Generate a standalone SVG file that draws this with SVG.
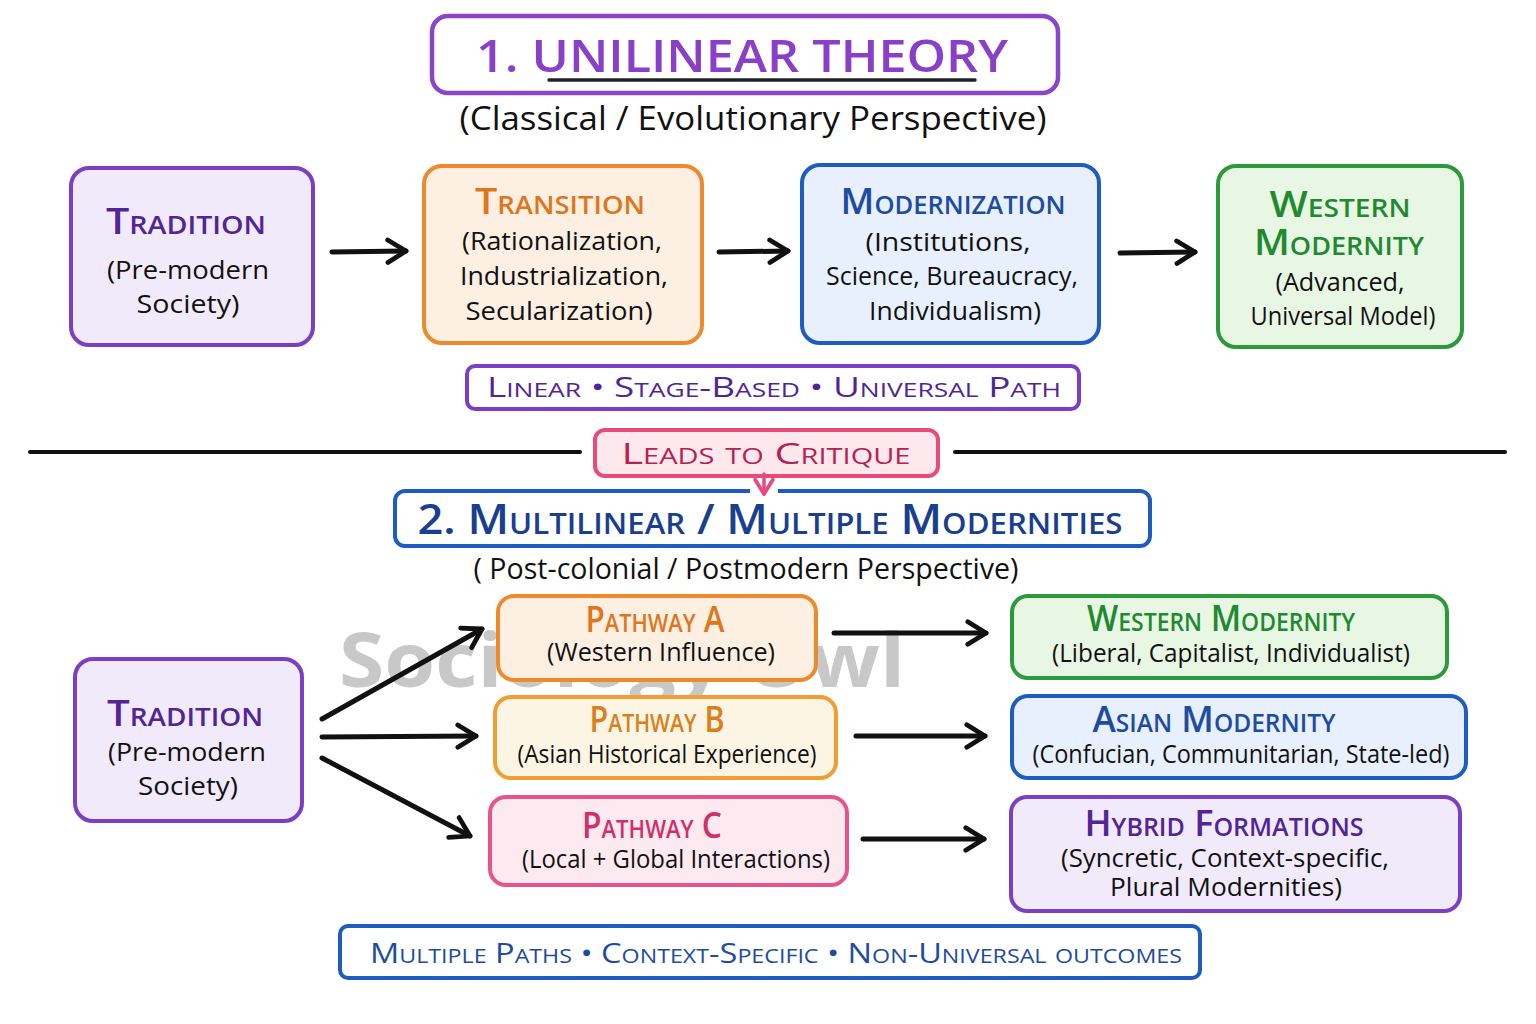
<svg xmlns="http://www.w3.org/2000/svg" width="1536" height="1024" viewBox="0 0 1536 1024">
<defs>
<marker id="ah" viewBox="0 0 20 20" refX="17" refY="10" markerWidth="28" markerHeight="28" markerUnits="userSpaceOnUse" orient="auto">
<path d="M4,2 L17,10 L4,18" fill="none" stroke="#111" stroke-width="3.4" stroke-linecap="round" stroke-linejoin="round"/>
</marker>
<marker id="ahp" viewBox="0 0 20 20" refX="17" refY="10" markerWidth="22" markerHeight="22" markerUnits="userSpaceOnUse" orient="auto">
<path d="M4,2 L17,10 L4,18" fill="none" stroke="#e8497e" stroke-width="3.4" stroke-linecap="round" stroke-linejoin="round"/>
</marker>
</defs>
<style>
text{font-family:"Open Sans","Noto Sans","Liberation Sans",sans-serif;text-anchor:middle;}
.box{stroke-width:4;}
.pur{fill:#f1eafb;stroke:#7b3ec4;}
.ora{fill:#fdf0e2;stroke:#ef8a2c;}
.yel{fill:#fdf5e3;stroke:#f09e32;}
.blu{fill:#e7f0fc;stroke:#1f5cc0;}
.grn{fill:#e8f7e4;stroke:#2c9a3b;}
.pnk{fill:#fde9f0;stroke:#e8548a;}
.ttl{font-weight:600;font-variant:small-caps;font-size:36px;}
.body{fill:#111;font-size:26px;}
.tp{fill:#512596;}
.to{fill:#e0761c;}
.ty{fill:#d9801d;}
.tb{fill:#1d4ca0;}
.tg{fill:#1f8a2f;}
.tk{fill:#d0306a;}
.conn line{stroke:#111;stroke-width:5;stroke-linecap:round;}
</style>
<rect width="1536" height="1024" fill="#ffffff"/>

<!-- watermark -->
<text x="622" y="687" font-family="Open Sans, Liberation Sans, sans-serif" font-weight="700" font-size="76" fill="#9a9a9a" fill-opacity="0.55" textLength="566" lengthAdjust="spacingAndGlyphs">Sociology Owl</text>

<!-- Section 1 title -->
<g id="title1">
<rect x="432" y="16" width="626" height="77" rx="16" fill="#fff" stroke="#8a45c8" stroke-width="4.5"/>
<text x="742" y="72" font-size="46" font-weight="600" fill="#8a3fc8" textLength="532" lengthAdjust="spacingAndGlyphs">1. UNILINEAR THEORY</text>
<line x1="549" y1="80" x2="975" y2="80" stroke="#222" stroke-width="3.5" stroke-linecap="round"/>
<text x="753" y="130" font-size="33" fill="#111" textLength="587" lengthAdjust="spacingAndGlyphs">(Classical / Evolutionary Perspective)</text>
</g>

<!-- top row -->
<g id="tradition1">
<rect class="box pur" x="71" y="168" width="242" height="177" rx="18"/>
<text class="ttl tp" x="186" y="234" textLength="160" lengthAdjust="spacingAndGlyphs">Tradition</text>
<text class="body" x="188" y="279" textLength="162" lengthAdjust="spacingAndGlyphs">(Pre-modern</text>
<text class="body" x="188" y="313" textLength="103" lengthAdjust="spacingAndGlyphs">Society)</text>
</g>
<g id="transition">
<rect class="box ora" x="424" y="166" width="278" height="177" rx="18"/>
<text class="ttl to" x="560" y="214" textLength="170" lengthAdjust="spacingAndGlyphs">Transition</text>
<text class="body" x="562" y="250" textLength="200" lengthAdjust="spacingAndGlyphs">(Rationalization,</text>
<text class="body" x="564" y="285" textLength="208" lengthAdjust="spacingAndGlyphs">Industrialization,</text>
<text class="body" x="559" y="320" textLength="187" lengthAdjust="spacingAndGlyphs">Secularization)</text>
</g>
<g id="modernization">
<rect class="box blu" x="802" y="165" width="297" height="178" rx="18"/>
<text class="ttl tb" x="953" y="214" textLength="225" lengthAdjust="spacingAndGlyphs">Modernization</text>
<text class="body" x="948" y="251" textLength="165" lengthAdjust="spacingAndGlyphs">(Institutions,</text>
<text class="body" x="952" y="285" textLength="252" lengthAdjust="spacingAndGlyphs">Science, Bureaucracy,</text>
<text class="body" x="955" y="320" textLength="172" lengthAdjust="spacingAndGlyphs">Individualism)</text>
</g>
<g id="western1">
<rect class="box grn" x="1218" y="166" width="244" height="181" rx="18"/>
<text class="ttl tg" x="1340" y="217" textLength="141" lengthAdjust="spacingAndGlyphs">Western</text>
<text class="ttl tg" x="1339" y="255" textLength="170" lengthAdjust="spacingAndGlyphs">Modernity</text>
<text class="body" x="1340" y="291" textLength="129" lengthAdjust="spacingAndGlyphs">(Advanced,</text>
<text class="body" x="1343" y="325" textLength="185" lengthAdjust="spacingAndGlyphs">Universal Model)</text>
</g>

<g id="banner1">
<rect x="467" y="366" width="612" height="43" rx="8" fill="#fff" stroke="#7b3ec4" stroke-width="4"/>
<text class="tp" x="774" y="397" font-size="28" font-weight="500" font-variant="small-caps" textLength="574" lengthAdjust="spacingAndGlyphs">Linear  •  Stage-Based  •  Universal Path</text>
</g>

<!-- divider -->
<g id="divider">
<line x1="30" y1="452" x2="580" y2="452" stroke="#111" stroke-width="4" stroke-linecap="round"/>
<line x1="955" y1="452" x2="1505" y2="452" stroke="#111" stroke-width="4" stroke-linecap="round"/>
</g>

<g id="critique">
<rect x="595" y="430" width="343" height="46" rx="10" fill="#fde8ee" stroke="#e84a7a" stroke-width="4"/>
<text x="766" y="464" font-size="30" font-weight="500" font-variant="small-caps" fill="#b81f52" textLength="289" lengthAdjust="spacingAndGlyphs">Leads to Critique</text>
</g>

<!-- Section 2 title -->
<g id="title2">
<rect x="395" y="491" width="755" height="55" rx="10" fill="#fff" stroke="#1f5cc0" stroke-width="4"/>
<line x1="750" y1="491" x2="778" y2="491" stroke="#fff" stroke-width="6"/>
<text x="770" y="534" font-size="42" font-weight="600" font-variant="small-caps" fill="#1a3f8f" textLength="705" lengthAdjust="spacingAndGlyphs">2. Multilinear / Multiple Modernities</text>
<text x="746" y="579" font-size="30" fill="#111" textLength="545" lengthAdjust="spacingAndGlyphs">( Post-colonial / Postmodern Perspective)</text>
</g>

<g id="tradition2">
<rect class="box pur" x="75" y="659" width="227" height="162" rx="18"/>
<text class="ttl tp" x="185" y="726" textLength="156" lengthAdjust="spacingAndGlyphs">Tradition</text>
<text class="body" x="187" y="761" textLength="158" lengthAdjust="spacingAndGlyphs">(Pre-modern</text>
<text class="body" x="188" y="795" textLength="100" lengthAdjust="spacingAndGlyphs">Society)</text>
</g>

<g id="pathA">
<rect class="box ora" x="498" y="596" width="318" height="84" rx="16"/>
<text class="ttl to" x="655" y="632" font-size="32" textLength="139" lengthAdjust="spacingAndGlyphs">Pathway A</text>
<text class="body" x="661" y="661" textLength="228" lengthAdjust="spacingAndGlyphs">(Western Influence)</text>
</g>
<g id="pathB">
<rect class="box yel" x="495" y="697" width="341" height="81" rx="16"/>
<text class="ttl ty" x="657" y="732" font-size="32" textLength="135" lengthAdjust="spacingAndGlyphs">Pathway B</text>
<text class="body" x="667" y="763" textLength="299" lengthAdjust="spacingAndGlyphs">(Asian Historical Experience)</text>
</g>
<g id="pathC">
<rect class="box pnk" x="490" y="797" width="357" height="88" rx="16"/>
<text class="ttl tk" x="652" y="838" font-size="32" textLength="140" lengthAdjust="spacingAndGlyphs">Pathway C</text>
<text class="body" x="676" y="868" textLength="308" lengthAdjust="spacingAndGlyphs">(Local + Global Interactions)</text>
</g>

<g id="western2">
<rect class="box grn" x="1012" y="596" width="435" height="82" rx="16"/>
<text class="ttl tg" x="1221" y="631" font-size="32" textLength="268" lengthAdjust="spacingAndGlyphs">Western Modernity</text>
<text class="body" x="1231" y="662" textLength="358" lengthAdjust="spacingAndGlyphs">(Liberal, Capitalist, Individualist)</text>
</g>
<g id="asian">
<rect class="box blu" x="1012" y="696" width="454" height="82" rx="16"/>
<text class="ttl tb" x="1214" y="732" font-size="32" textLength="243" lengthAdjust="spacingAndGlyphs">Asian Modernity</text>
<text class="body" x="1241" y="763" textLength="417" lengthAdjust="spacingAndGlyphs">(Confucian, Communitarian, State-led)</text>
</g>
<g id="hybrid">
<rect class="box pur" x="1011" y="797" width="449" height="114" rx="16"/>
<text class="ttl tp" x="1224" y="836" font-size="32" textLength="279" lengthAdjust="spacingAndGlyphs">Hybrid Formations</text>
<text class="body" x="1225" y="867" textLength="328" lengthAdjust="spacingAndGlyphs">(Syncretic, Context-specific,</text>
<text class="body" x="1226" y="896" textLength="232" lengthAdjust="spacingAndGlyphs">Plural Modernities)</text>
</g>

<g id="banner2">
<rect x="340" y="926" width="860" height="52" rx="8" fill="#fff" stroke="#1f5cc0" stroke-width="4"/>
<text class="tb" x="776" y="963" font-size="28" font-weight="500" font-variant="small-caps" textLength="812" lengthAdjust="spacingAndGlyphs">Multiple Paths  •  Context-Specific  •  Non-Universal outcomes</text>
</g>

<!-- connectors -->
<g id="connectors" class="conn">
<line x1="332" y1="252" x2="406" y2="251" marker-end="url(#ah)"/>
<line x1="719" y1="252" x2="788" y2="251" marker-end="url(#ah)"/>
<line x1="1120" y1="253" x2="1195" y2="252" marker-end="url(#ah)"/>
<line x1="322" y1="719" x2="482" y2="629" marker-end="url(#ah)"/>
<line x1="322" y1="737" x2="476" y2="736" marker-end="url(#ah)"/>
<line x1="322" y1="758" x2="470" y2="836" marker-end="url(#ah)"/>
<line x1="834" y1="633" x2="986" y2="633" marker-end="url(#ah)"/>
<line x1="856" y1="736" x2="985" y2="736" marker-end="url(#ah)"/>
<line x1="863" y1="839" x2="984" y2="839" marker-end="url(#ah)"/>
<line x1="764" y1="474" x2="764" y2="494" style="stroke:#e8497e;stroke-width:3.5" marker-end="url(#ahp)"/>
</g>
</svg>
